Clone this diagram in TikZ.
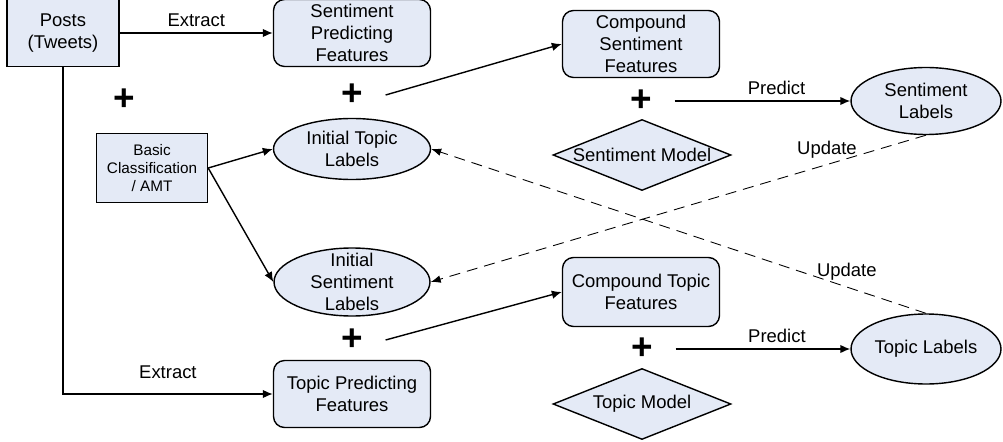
\documentclass[tikz,border=0pt]{standalone}
\usepackage{fontspec}
\setmainfont{Liberation Sans}
\usetikzlibrary{arrows.meta,positioning,shapes.geometric}
\definecolor{boxfill}{RGB}{228,234,246}
\tikzset{
postbox/.style={
  rectangle,
  line width=0.8pt,
  draw=black,
  fill=boxfill,
  align=center,
  inner sep=0pt,
  }
}
\tikzset{
featbox/.style={
  postbox,
  rounded corners=0.22cm,
  minimum width=3.14cm,
  minimum height=1.34cm,
  }
}
\tikzset{
labelell/.style={
  ellipse,
  line width=0.8pt,
  draw=black,
  fill=boxfill,
  align=center,
  inner sep=-5pt,
  }
}
\tikzset{
modeldiam/.style={
  diamond,
  line width=0.8pt,
  draw=black,
  fill=boxfill,
  aspect=2.5,
  inner sep=-2pt,
  minimum width=3.56cm,
  minimum height=1.42cm,
  }
}
\tikzset{
plusnode/.style={
  font=\fontsize{21}{21}\selectfont\bfseries,
  inner xsep=0.45cm,
  inner ysep=0pt,
  }
}
\tikzset{
myline/.style={
  line width=0.8pt,
  -{Latex[length=2mm,width=1.7mm]}
  }
}
\tikzset{
updline/.style={
  line width=0.5pt,
  dash pattern=on 2.2mm off 1.4mm,
  -{Latex[length=2mm,width=1.5mm]}
  }
}

\begin{document}
\begin{tikzpicture}[x=0.02cm,y=-0.02cm,font=\fontsize{10.5}{12.5}\selectfont]
    \useasboundingbox (0,0) rectangle (1003,442);

    % inputs
    \node[postbox, minimum width=2.24cm, minimum height=1.34cm] (posts) at (63,33) {Posts\\(Tweets)};
    \node[plusnode] (plus_in) at (124,100) {+};
    \node[postbox, minimum width=2.22cm, minimum height=1.38cm, font=\fontsize{8.7}{10.5}\selectfont] (basic) at (152,168) {Basic\\Classification\\/ AMT};

    % sentiment part
    \node[featbox] (spf) at (352,33) {Sentiment\\Predicting\\Features};
    \node[plusnode] (plus_s) at (352,95) {+};
    \node[labelell, minimum width=3.14cm, minimum height=1.22cm] (itl) at (352,149) {Initial Topic\\Labels};
    \node[featbox] (csf) at (641,44) {Compound\\Sentiment\\Features};
    \node[plusnode] (plus_sm) at (641,101) {+};
    \node[modeldiam] (smodel) at (642,155) {Sentiment Model};
    \node[labelell, minimum width=3.0cm, minimum height=1.34cm] (sl) at (926,101) {Sentiment\\Labels};

    % topic part
    \node[labelell, minimum width=3.12cm, minimum height=1.36cm] (isl) at (352,282) {Initial\\Sentiment\\Labels};
    \node[plusnode] (plus_t) at (352,340) {+};
    \node[featbox] (tpf) at (352,394) {Topic Predicting\\Features};
    \node[featbox, minimum height=1.38cm] (ctf) at (641,292) {Compound Topic\\Features};
    \node[plusnode] (plus_tm) at (642,349) {+};
    \node[modeldiam] (tmodel) at (642,404) {Topic Model};
    \node[labelell, minimum width=3.0cm, minimum height=1.4cm] (tl) at (926,349) {Topic Labels};

    % extract edges
    \draw[myline] (posts) -- node[midway, above] {Extract} (spf);
    \draw[myline] (posts.south) |- node[pos=0.75, above=5pt] {Extract} (tpf.west);

    % initial labels edges
    \draw[myline] (basic.east) -- (itl.west);
    \draw[myline] (basic.east) -- (isl.west);

    % compound edges
    \draw[myline] (plus_s.east) -- (csf.west);
    \draw[myline] (plus_t.east) -- (ctf.west);

    % predict edges
    \draw[myline] (plus_sm.east) -- node[pos=0.58, above] {Predict} (sl.west);
    \draw[myline] (plus_tm.east) -- node[pos=0.58, above] {Predict} (tl.west);

    % update edges
    \draw[updline] (sl.south) -- node[pos=0.2, above] {Update} (isl.east);
    \draw[updline] (tl.north) -- node[pos=0.16, above] {Update} (itl.east);
\end{tikzpicture}
\end{document}
